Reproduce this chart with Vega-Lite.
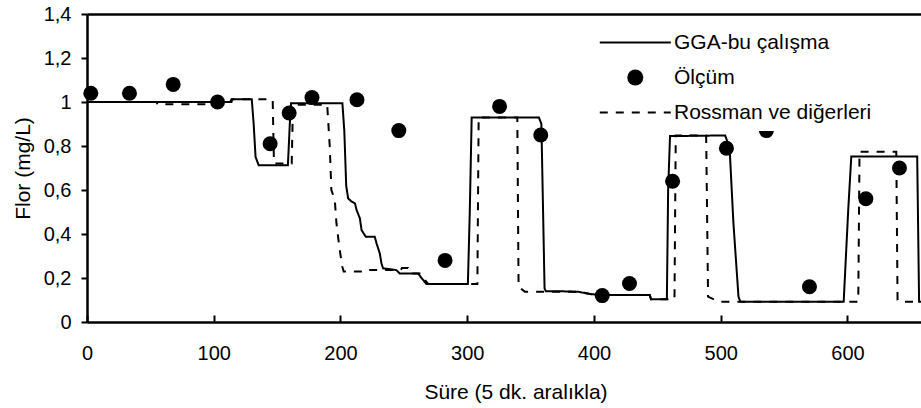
{
  "$schema": "https://vega.github.io/schema/vega-lite/v6.json",
  "width": 834,
  "height": 308,
  "autosize": {"type": "none"},
  "padding": {"left": 87, "top": 14, "right": 0, "bottom": 86},
  "background": "white",
  "config": {
    "font": "Liberation Sans",
    "view": {"stroke": null},
    "axis": {
      "grid": false,
      "domainColor": "black",
      "domainWidth": 2.5,
      "tickColor": "black",
      "tickWidth": 2,
      "labelColor": "black",
      "labelFontSize": 20,
      "labelFont": "Liberation Sans",
      "titleColor": "black",
      "titleFontSize": 21,
      "titleFont": "Liberation Sans",
      "titleFontWeight": "normal"
    }
  },
  "datasets": {
    "lines": [
      {"series": "GGA-bu çalışma", "t": 0, "v": 1.0},
      {"series": "GGA-bu çalışma", "t": 114, "v": 1.0},
      {"series": "GGA-bu çalışma", "t": 114.5, "v": 1.012},
      {"series": "GGA-bu çalışma", "t": 130, "v": 1.012},
      {"series": "GGA-bu çalışma", "t": 131.5, "v": 0.9},
      {"series": "GGA-bu çalışma", "t": 133, "v": 0.75},
      {"series": "GGA-bu çalışma", "t": 135.5, "v": 0.712},
      {"series": "GGA-bu çalışma", "t": 158.5, "v": 0.712},
      {"series": "GGA-bu çalışma", "t": 160, "v": 0.9},
      {"series": "GGA-bu çalışma", "t": 161, "v": 0.994},
      {"series": "GGA-bu çalışma", "t": 201.5, "v": 0.994},
      {"series": "GGA-bu çalışma", "t": 203, "v": 0.87},
      {"series": "GGA-bu çalışma", "t": 204.5, "v": 0.62},
      {"series": "GGA-bu çalışma", "t": 206, "v": 0.562},
      {"series": "GGA-bu çalışma", "t": 208.8, "v": 0.547},
      {"series": "GGA-bu çalışma", "t": 211.4, "v": 0.539},
      {"series": "GGA-bu çalışma", "t": 212.7, "v": 0.509},
      {"series": "GGA-bu çalışma", "t": 215.3, "v": 0.471},
      {"series": "GGA-bu çalışma", "t": 216.6, "v": 0.418},
      {"series": "GGA-bu çalışma", "t": 219.9, "v": 0.388},
      {"series": "GGA-bu çalışma", "t": 227, "v": 0.388},
      {"series": "GGA-bu çalışma", "t": 228.4, "v": 0.358},
      {"series": "GGA-bu çalışma", "t": 231, "v": 0.312},
      {"series": "GGA-bu çalışma", "t": 232.3, "v": 0.267},
      {"series": "GGA-bu çalışma", "t": 233.6, "v": 0.244},
      {"series": "GGA-bu çalışma", "t": 244, "v": 0.236},
      {"series": "GGA-bu çalışma", "t": 246.7, "v": 0.221},
      {"series": "GGA-bu çalışma", "t": 261.3, "v": 0.221},
      {"series": "GGA-bu çalışma", "t": 264, "v": 0.199},
      {"series": "GGA-bu çalışma", "t": 267.8, "v": 0.173},
      {"series": "GGA-bu çalışma", "t": 300.5, "v": 0.173},
      {"series": "GGA-bu çalışma", "t": 302, "v": 0.5},
      {"series": "GGA-bu çalışma", "t": 303.5, "v": 0.93},
      {"series": "GGA-bu çalışma", "t": 356.5, "v": 0.93},
      {"series": "GGA-bu çalışma", "t": 358.5, "v": 0.9},
      {"series": "GGA-bu çalışma", "t": 361, "v": 0.153},
      {"series": "GGA-bu çalışma", "t": 362, "v": 0.14},
      {"series": "GGA-bu çalışma", "t": 373, "v": 0.14},
      {"series": "GGA-bu çalışma", "t": 388, "v": 0.137},
      {"series": "GGA-bu çalışma", "t": 397, "v": 0.127},
      {"series": "GGA-bu çalışma", "t": 405, "v": 0.123},
      {"series": "GGA-bu çalışma", "t": 444, "v": 0.123},
      {"series": "GGA-bu çalışma", "t": 445, "v": 0.103},
      {"series": "GGA-bu çalışma", "t": 457.5, "v": 0.103},
      {"series": "GGA-bu çalışma", "t": 458.5, "v": 0.6},
      {"series": "GGA-bu çalışma", "t": 460, "v": 0.845},
      {"series": "GGA-bu çalışma", "t": 503.5, "v": 0.848},
      {"series": "GGA-bu çalışma", "t": 507, "v": 0.79},
      {"series": "GGA-bu çalışma", "t": 510, "v": 0.45},
      {"series": "GGA-bu çalışma", "t": 514, "v": 0.115},
      {"series": "GGA-bu çalışma", "t": 515.5, "v": 0.092},
      {"series": "GGA-bu çalışma", "t": 597, "v": 0.092},
      {"series": "GGA-bu çalışma", "t": 600.5, "v": 0.5},
      {"series": "GGA-bu çalışma", "t": 603, "v": 0.752},
      {"series": "GGA-bu çalışma", "t": 655, "v": 0.752},
      {"series": "GGA-bu çalışma", "t": 656.5, "v": 0.092},
      {"series": "GGA-bu çalışma", "t": 658, "v": 0.092},
      {"series": "Rossman ve diğerleri", "t": 0, "v": 1.0},
      {"series": "Rossman ve diğerleri", "t": 55, "v": 1.0},
      {"series": "Rossman ve diğerleri", "t": 55.5, "v": 0.99},
      {"series": "Rossman ve diğerleri", "t": 100, "v": 0.99},
      {"series": "Rossman ve diğerleri", "t": 101, "v": 1.0},
      {"series": "Rossman ve diğerleri", "t": 113, "v": 1.0},
      {"series": "Rossman ve diğerleri", "t": 114, "v": 1.012},
      {"series": "Rossman ve diğerleri", "t": 146.5, "v": 1.012},
      {"series": "Rossman ve diğerleri", "t": 147.5, "v": 0.72},
      {"series": "Rossman ve diğerleri", "t": 161.5, "v": 0.72},
      {"series": "Rossman ve diğerleri", "t": 162.5, "v": 0.988},
      {"series": "Rossman ve diğerleri", "t": 189.5, "v": 0.988},
      {"series": "Rossman ve diğerleri", "t": 191.5, "v": 0.8},
      {"series": "Rossman ve diğerleri", "t": 192.8, "v": 0.6},
      {"series": "Rossman ve diğerleri", "t": 195.5, "v": 0.555},
      {"series": "Rossman ve diğerleri", "t": 196.8, "v": 0.449},
      {"series": "Rossman ve diğerleri", "t": 199.4, "v": 0.327},
      {"series": "Rossman ve diğerleri", "t": 201.5, "v": 0.25},
      {"series": "Rossman ve diğerleri", "t": 202.5, "v": 0.229},
      {"series": "Rossman ve diğerleri", "t": 218, "v": 0.229},
      {"series": "Rossman ve diğerleri", "t": 219, "v": 0.236},
      {"series": "Rossman ve diğerleri", "t": 247.5, "v": 0.236},
      {"series": "Rossman ve diğerleri", "t": 248.5, "v": 0.245},
      {"series": "Rossman ve diğerleri", "t": 253.3, "v": 0.245},
      {"series": "Rossman ve diğerleri", "t": 254.7, "v": 0.221},
      {"series": "Rossman ve diğerleri", "t": 262.6, "v": 0.221},
      {"series": "Rossman ve diğerleri", "t": 266.6, "v": 0.191},
      {"series": "Rossman ve diğerleri", "t": 269.2, "v": 0.173},
      {"series": "Rossman ve diğerleri", "t": 308, "v": 0.173},
      {"series": "Rossman ve diğerleri", "t": 309, "v": 0.93},
      {"series": "Rossman ve diğerleri", "t": 339.5, "v": 0.93},
      {"series": "Rossman ve diğerleri", "t": 340.5, "v": 0.16},
      {"series": "Rossman ve diğerleri", "t": 345.4, "v": 0.138},
      {"series": "Rossman ve diğerleri", "t": 388.5, "v": 0.138},
      {"series": "Rossman ve diğerleri", "t": 396.7, "v": 0.127},
      {"series": "Rossman ve diğerleri", "t": 404.6, "v": 0.123},
      {"series": "Rossman ve diğerleri", "t": 444, "v": 0.123},
      {"series": "Rossman ve diğerleri", "t": 445, "v": 0.103},
      {"series": "Rossman ve diğerleri", "t": 463.5, "v": 0.103},
      {"series": "Rossman ve diğerleri", "t": 464.5, "v": 0.848},
      {"series": "Rossman ve diğerleri", "t": 488.5, "v": 0.848},
      {"series": "Rossman ve diğerleri", "t": 490, "v": 0.115},
      {"series": "Rossman ve diğerleri", "t": 499, "v": 0.092},
      {"series": "Rossman ve diğerleri", "t": 608.5, "v": 0.092},
      {"series": "Rossman ve diğerleri", "t": 609.5, "v": 0.774},
      {"series": "Rossman ve diğerleri", "t": 638.5, "v": 0.774},
      {"series": "Rossman ve diğerleri", "t": 639.5, "v": 0.1},
      {"series": "Rossman ve diğerleri", "t": 641.3, "v": 0.092},
      {"series": "Rossman ve diğerleri", "t": 658, "v": 0.092}
    ],
    "points": [
      {"series": "Ölçüm", "t": 3, "v": 1.04},
      {"series": "Ölçüm", "t": 33.5, "v": 1.04},
      {"series": "Ölçüm", "t": 68, "v": 1.08},
      {"series": "Ölçüm", "t": 103, "v": 1.0},
      {"series": "Ölçüm", "t": 144.5, "v": 0.81},
      {"series": "Ölçüm", "t": 159.5, "v": 0.95},
      {"series": "Ölçüm", "t": 177.5, "v": 1.02},
      {"series": "Ölçüm", "t": 213, "v": 1.01},
      {"series": "Ölçüm", "t": 246, "v": 0.87},
      {"series": "Ölçüm", "t": 282.5, "v": 0.28},
      {"series": "Ölçüm", "t": 325.5, "v": 0.98},
      {"series": "Ölçüm", "t": 358, "v": 0.85},
      {"series": "Ölçüm", "t": 406.5, "v": 0.12},
      {"series": "Ölçüm", "t": 428, "v": 0.175},
      {"series": "Ölçüm", "t": 462, "v": 0.64},
      {"series": "Ölçüm", "t": 504.5, "v": 0.79},
      {"series": "Ölçüm", "t": 536, "v": 0.87},
      {"series": "Ölçüm", "t": 570, "v": 0.16},
      {"series": "Ölçüm", "t": 614.5, "v": 0.56},
      {"series": "Ölçüm", "t": 641, "v": 0.7}
    ]
  },
  "layer": [
    {
      "data": {"name": "lines"},
      "mark": {"type": "line", "color": "black", "strokeWidth": 2, "clip": true},
      "encoding": {
        "x": {
          "field": "t",
          "type": "quantitative",
          "scale": {"domain": [0, 658], "nice": false, "zero": false},
          "axis": {
            "orient": "bottom",
            "values": [0, 100, 200, 300, 400, 500, 600],
            "tickSize": -7,
            "labelPadding": 28.5,
            "labelFlush": false,
            "title": "Süre (5 dk. aralıkla)",
            "titlePadding": 18,
            "titleX": 428.5
          }
        },
        "y": {
          "field": "v",
          "type": "quantitative",
          "scale": {"domain": [0, 1.4], "nice": false},
          "axis": {
            "values": [0, 0.2, 0.4, 0.6, 0.8, 1, 1.2, 1.4],
            "format": ".1~f",
            "labelExpr": "replace(datum.label, '.', ',')",
            "tickSize": 6,
            "labelPadding": 10,
            "labelFlush": false,
            "title": "Flor (mg/L)",
            "titlePadding": 10
          }
        },
        "strokeDash": {
          "field": "series",
          "type": "nominal",
          "scale": {
            "domain": ["GGA-bu çalışma", "Rossman ve diğerleri"],
            "range": [[1, 0], [8, 8]]
          },
          "legend": null
        }
      }
    },
    {
      "data": {"name": "points"},
      "mark": {"type": "point", "filled": true, "color": "black", "size": 225, "opacity": 1},
      "encoding": {
        "x": {
          "field": "t",
          "type": "quantitative",
          "axis": {"orient": "top", "labels": false, "ticks": false, "title": null, "domain": true}
        },
        "y": {"field": "v", "type": "quantitative"},
        "shape": {
          "field": "series",
          "type": "nominal",
          "scale": {
            "domain": ["GGA-bu çalışma", "Ölçüm", "Rossman ve diğerleri"],
            "range": [
              "M-4.44,-0.125L4.44,-0.125L4.44,0.125L-4.44,0.125Z",
              "circle",
              "M-4.44,-0.125L-3.44,-0.125L-3.44,0.125L-4.44,0.125ZM-2.44,-0.125L-1.44,-0.125L-1.44,0.125L-2.44,0.125ZM-0.44,-0.125L0.56,-0.125L0.56,0.125L-0.44,0.125ZM1.56,-0.125L2.56,-0.125L2.56,0.125L1.56,0.125ZM3.56,-0.125L4.44,-0.125L4.44,0.125L3.56,0.125Z"
            ]
          },
          "legend": {
            "title": null,
            "orient": "none",
            "legendX": 529.8,
            "legendY": 10,
            "padding": 8,
            "fillColor": "white",
            "symbolSize": 256,
            "symbolStrokeWidth": 0,
            "symbolOffset": 0,
            "labelOffset": 28.2,
            "labelFontSize": 21,
            "labelFont": "Liberation Sans",
            "labelColor": "black",
            "labelLimit": 400,
            "rowPadding": 13,
            "encode": {
              "symbols": {
                "fill": {"value": "black"},
                "opacity": {"value": 1}
              }
            }
          }
        }
      }
    }
  ]
}
